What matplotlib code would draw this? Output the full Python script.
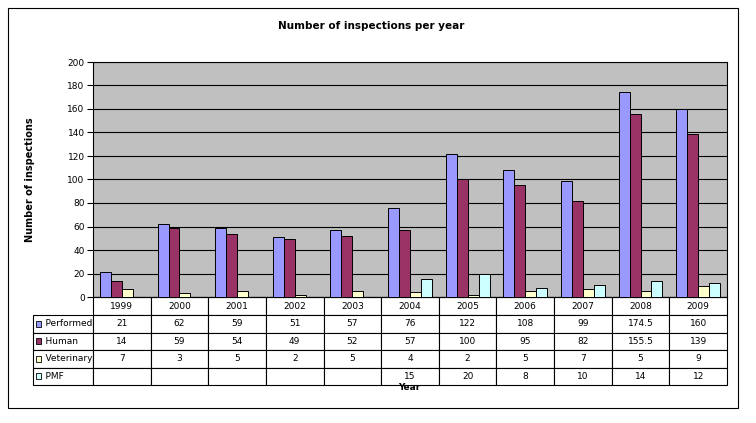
import matplotlib.pyplot as plt
import numpy as np
from matplotlib.table import Table
from matplotlib.patches import Rectangle

years = ['1999', '2000', '2001', '2002', '2003', '2004', '2005', '2006', '2007', '2008', '2009']
performed = [21, 62, 59, 51, 57, 76, 122, 108, 99, 174.5, 160]
human = [14, 59, 54, 49, 52, 57, 100, 95, 82, 155.5, 139]
veterinary = [7, 3, 5, 2, 5, 4, 2, 5, 7, 5, 9]
pmf = [np.nan, np.nan, np.nan, np.nan, np.nan, 15, 20, 8, 10, 14, 12]

series_names = ['Performed', 'Human', 'Veterinary', 'PMF']
series_values = [performed, human, veterinary, pmf]
colors = ['#9999FF', '#993366', '#FFFFCC', '#CCFFFF']

plt.rcParams['font.family'] = 'DejaVu Sans'
fig = plt.figure(figsize=(7.56, 4.23), dpi=100)
fig.patch.set_facecolor('white')

# plot area in figure fractions
W, H = 756, 423
left, right, top, bottom = 93, 727, 62, 297
ax = fig.add_axes([left / W, 1 - bottom / H, (right - left) / W, (bottom - top) / H])
ax.set_facecolor('#C0C0C0')

x = np.arange(len(years))
width = 0.19
for i, (name, vals, c) in enumerate(zip(series_names, series_values, colors)):
    ax.bar(x + (i - 1.5) * width, vals, width, color=c, edgecolor='black',
           linewidth=0.7, label=name, zorder=3)

ax.set_xlim(-0.5, len(years) - 0.5)
ax.set_ylim(0, 200)
ax.set_yticks(np.arange(0, 201, 20))
ax.yaxis.grid(True, color='black', linewidth=0.8, zorder=0)
ax.set_axisbelow(True)
ax.set_xticks([])
ax.tick_params(axis='y', labelsize=6.5, length=4, width=0.8, direction='out', pad=2)
for s in ax.spines.values():
    s.set_linewidth(0.8)

ax.set_ylabel('Number of inspections', fontsize=7, fontweight='bold', labelpad=23)

# data table below the axes
ax_h = bottom - top
ax_w = right - left
lab_w = 60
row_h = [18, 17.5, 17.5, 17.5, 17.5]
tab_h = sum(row_h) / ax_h
tab = Table(ax, bbox=[0, -tab_h, 1, tab_h])
cw = 1.0 / len(years)
for j, yr in enumerate(years):
    c = tab.add_cell(0, j, width=cw, height=row_h[0] / ax_h, text=yr, loc='center')
    c.set_linewidth(0.8)
for r, (name, vals) in enumerate(zip(series_names, series_values), start=1):
    c = tab.add_cell(r, -1, width=lab_w / ax_w, height=row_h[r] / ax_h,
                     text='    ' + name, loc='left')
    c.set_linewidth(0.8)
    c.PAD = 0.02
    for j, v in enumerate(vals):
        txt = '' if np.isnan(v) else ('%g' % v)
        c = tab.add_cell(r, j, width=cw, height=row_h[r] / ax_h, text=txt, loc='center')
        c.set_linewidth(0.8)
tab.auto_set_font_size(False)
tab.set_fontsize(6.5)
ax.add_table(tab)

# legend keys in the row label column
y0 = bottom + row_h[0]
for r, c in enumerate(colors):
    yc = y0 + sum(row_h[1:r + 1]) + row_h[r + 1] / 2
    fig.add_artist(Rectangle((36 / W, 1 - (yc + 3) / H), 5 / W, 6 / H,
                             transform=fig.transFigure, facecolor=c,
                             edgecolor='black', linewidth=0.6))

fig.text(398 / W, 1 - 387 / H, 'Year', fontsize=6.5, fontweight='bold', va='center')
fig.text(371 / W, 1 - 26 / H, 'Number of inspections per year', fontsize=7.5,
         fontweight='bold', ha='center', va='center')

# outer chart border
fig.add_artist(Rectangle((8 / W, 1 - 408 / H), 730 / W, 400 / H, transform=fig.transFigure,
                         fill=False, edgecolor='black', linewidth=0.8))

fig.savefig('out.png', dpi=100)
